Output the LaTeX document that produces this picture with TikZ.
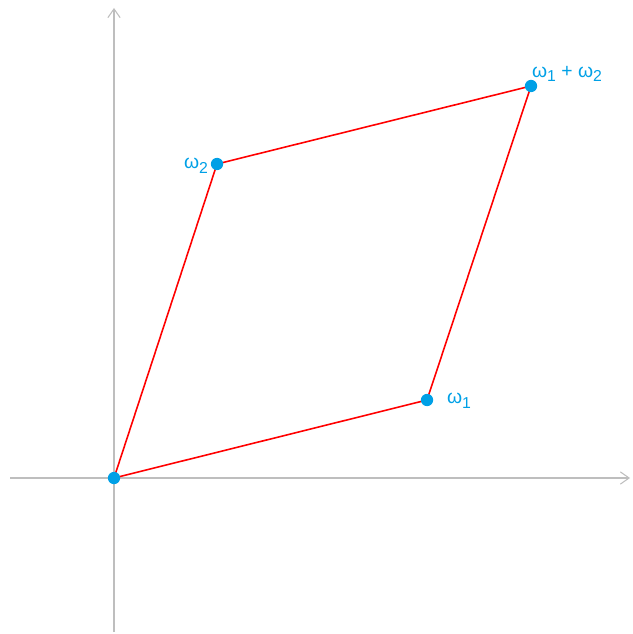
\documentclass[tikz,border=0pt]{standalone}
\usepackage{fontspec}
\setmainfont{Liberation Sans}
\usepackage{tikz}
\usetikzlibrary{arrows.meta,calc,positioning}
\definecolor{ptc}{RGB}{0,160,230}
\definecolor{axc}{RGB}{190,190,190}
\newcommand{\om}[1]{ω\raisebox{-0.45ex}{\fontsize{9}{10}\selectfont#1}}

\begin{document}
\begin{tikzpicture}[x=0.02cm,y=-0.02cm,>={Straight Barb[length=5pt,width=7pt]},
  pt/.style={circle,fill=ptc,inner sep=0pt,minimum size=7pt},
  lbl/.style={text=ptc,font=\fontsize{11}{13}\selectfont,inner sep=1pt}]
  \useasboundingbox (0,0) rectangle (632,634);
  % axes
  \coordinate (xl) at (10,478);
  \coordinate (xr) at (630,478);
  \coordinate (yb) at (114,632);
  \coordinate (yt) at (114,8);
  \draw[->,axc,line width=0.6pt] (xl) -- (xr);
  \draw[->,axc,line width=0.6pt] (yb) -- (yt);
  % lattice cell
  \coordinate (o) at (114,478);
  \coordinate (w1) at (427,400);
  \coordinate (w2) at (217,164);
  \coordinate (ws) at (531,86);
  \draw[red,line width=0.9pt] (o) -- (w1) -- (ws) -- (w2) -- cycle;
  \foreach \p in {o,w1,w2,ws} \node[pt] (d\p) at (\p) {};
  \node[lbl,anchor=west] at ($(w1)+(18,1)$) {\om1};
  \node[lbl,anchor=east] at ($(w2)+(-7,2)$) {\om2};
  \node[lbl,anchor=south west] at ($(ws)+(-1,-2)$) {\om1 + \om2};
\end{tikzpicture}
\end{document}
